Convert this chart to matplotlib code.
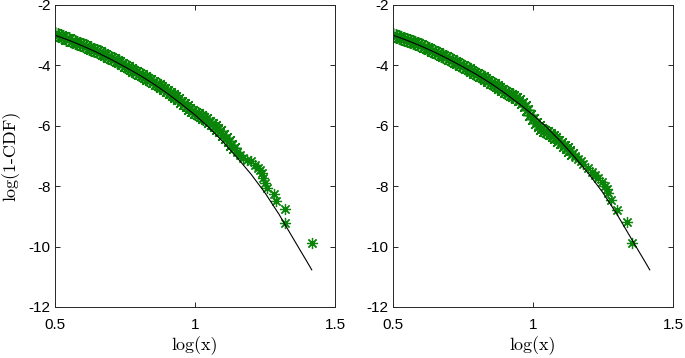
import numpy as np
import matplotlib
matplotlib.use("Agg")
import matplotlib.pyplot as plt

plt.rcParams['axes.unicode_minus'] = False

# fitted curve (same on both panels)
fit_x = [0.50, 0.55, 0.60, 0.65, 0.70, 0.75, 0.80, 0.85, 0.90, 0.95,
         1.00, 1.05, 1.10, 1.15, 1.20, 1.25, 1.30, 1.35, 1.40, 1.417]
fit_y = [-3.00, -3.17, -3.36, -3.57, -3.80, -4.05, -4.31, -4.60, -4.92, -5.27,
         -5.64, -6.06, -6.53, -7.05, -7.60, -8.22, -8.93, -9.72, -10.50, -10.77]

# empirical points, dense part (x = 0.50 .. 1.14)
dense_x = [0.50, 0.51, 0.52, 0.53, 0.54, 0.55, 0.56, 0.57, 0.58, 0.59,
           0.60, 0.61, 0.62, 0.63, 0.64, 0.65, 0.66, 0.67, 0.68, 0.69,
           0.70, 0.71, 0.72, 0.73, 0.74, 0.75, 0.76, 0.77, 0.78, 0.79,
           0.80, 0.81, 0.82, 0.83, 0.84, 0.85, 0.86, 0.87, 0.88, 0.89,
           0.90, 0.91, 0.92, 0.93, 0.94, 0.95, 0.96, 0.97, 0.98, 0.99,
           1.00, 1.01, 1.02, 1.03, 1.04, 1.05, 1.06, 1.07, 1.08, 1.09,
           1.10, 1.11, 1.12, 1.13, 1.14]

left_dense_y = [-2.97, -3.00, -3.04, -3.07, -3.11, -3.14, -3.18, -3.21, -3.25, -3.29,
                -3.33, -3.37, -3.41, -3.45, -3.49, -3.53, -3.57, -3.62, -3.67, -3.71,
                -3.75, -3.80, -3.85, -3.90, -3.96, -4.01, -4.06, -4.11, -4.17, -4.22,
                -4.28, -4.33, -4.38, -4.44, -4.49, -4.55, -4.61, -4.66, -4.72, -4.78,
                -4.86, -4.92, -4.98, -5.05, -5.12, -5.20, -5.28, -5.36, -5.44, -5.51,
                -5.57, -5.62, -5.67, -5.73, -5.79, -5.86, -5.93, -6.01, -6.09, -6.18,
                -6.29, -6.40, -6.51, -6.62, -6.74]
left_tail_x = [1.15, 1.16, 1.17, 1.185, 1.20, 1.214, 1.225, 1.232, 1.238, 1.244,
               1.25, 1.256, 1.282, 1.289, 1.321, 1.321, 1.417]
left_tail_y = [-6.86, -6.97, -7.06, -7.13, -7.18, -7.30, -7.40, -7.48, -7.57, -7.72,
               -7.90, -8.05, -8.26, -8.49, -8.77, -9.21, -9.89]

right_dense_y = [-2.98, -3.01, -3.05, -3.08, -3.12, -3.15, -3.19, -3.23, -3.26, -3.30,
                 -3.34, -3.38, -3.42, -3.46, -3.51, -3.55, -3.59, -3.64, -3.69, -3.73,
                 -3.78, -3.83, -3.88, -3.93, -3.98, -4.03, -4.08, -4.13, -4.18, -4.24,
                 -4.29, -4.34, -4.40, -4.45, -4.51, -4.57, -4.63, -4.69, -4.75, -4.81,
                 -4.87, -4.92, -4.97, -5.02, -5.08, -5.15, -5.24, -5.36, -5.49, -5.63,
                 -5.77, -5.90, -6.01, -6.09, -6.16, -6.22, -6.28, -6.35, -6.42, -6.50,
                 -6.58, -6.66, -6.74, -6.83, -6.92]
right_tail_x = [1.15, 1.16, 1.17, 1.18, 1.198, 1.21, 1.221, 1.233, 1.245, 1.257,
                1.265, 1.269, 1.277, 1.299, 1.337, 1.352]
right_tail_y = [-7.00, -7.09, -7.18, -7.27, -7.41, -7.52, -7.63, -7.74, -7.85, -8.00,
                -8.10, -8.24, -8.46, -8.79, -9.18, -9.89]

x_ticks = [0.5, 1, 1.5]
x_ticklabels = ['0.5', '1', '1.5']
y_ticks = [-12, -10, -8, -6, -4, -2]

GREEN = '#0a850a'
ASTERISK = (8, 2, 0)

fig = plt.figure(figsize=(6.85, 3.58), dpi=100)
ax1 = fig.add_axes([55 / 685, 51 / 358, 280 / 685, 302 / 358])
ax2 = fig.add_axes([393 / 685, 51 / 358, 280 / 685, 302 / 358])

panels = [
    (ax1, left_dense_y, left_tail_x, left_tail_y),
    (ax2, right_dense_y, right_tail_x, right_tail_y),
]

for ax, dy, tx, ty in panels:
    # dense part: heavily overlapping markers form a thick band
    ax.plot(dense_x, dy, linestyle='none', marker=ASTERISK,
            markersize=10.5, markeredgewidth=1.1, color=GREEN)
    ax.plot(tx, ty, linestyle='none', marker=ASTERISK,
            markersize=8, markeredgewidth=0.9, color=GREEN)
    ax.plot(fit_x, fit_y, color='black', linewidth=0.8)

    ax.set_xlim(0.5, 1.5)
    ax.set_ylim(-12, -2)
    ax.set_xticks(x_ticks)
    ax.set_xticklabels(x_ticklabels)
    ax.set_yticks(y_ticks)
    ax.tick_params(direction='in', top=True, right=True, length=3.5, width=0.7,
                   color='#262626', labelsize=11)
    ax.tick_params(axis='x', pad=8)
    ax.tick_params(axis='y', pad=3)
    for lab in ax.get_xticklabels() + ax.get_yticklabels():
        lab.set_family('Liberation Sans')
    for sp in ax.spines.values():
        sp.set_color('#262626')
        sp.set_linewidth(0.7)
    ax.set_xlabel('log(x)', family='cmr10', fontsize=13, labelpad=3)

ax1.set_ylabel('log(1-CDF)', family='cmr10', fontsize=13, labelpad=6)

fig.savefig('out.png', dpi=100)
